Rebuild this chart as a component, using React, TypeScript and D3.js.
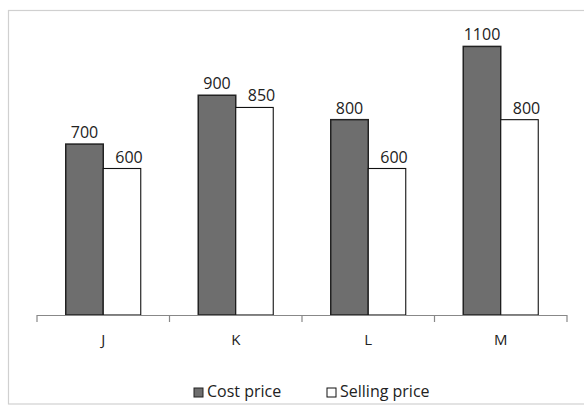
import React from "react";
import * as d3 from "d3";

const categories = ["J", "K", "L", "M"];
const seriesNames = ["Cost price", "Selling price"];
const costPrice = [700, 900, 800, 1100];
const sellingPrice = [600, 850, 600, 800];
const yMax = 1200;

const W = 584;
const H = 407;
const FONT = "'Open Sans', 'DejaVu Sans', sans-serif";

export default function App() {
  const x0 = d3.scaleBand<string>().domain(categories).range([37, 567]).padding(0);
  const bw = x0.bandwidth();
  const pair = 75;
  const x1 = d3
    .scaleBand<string>()
    .domain(seriesNames)
    .range([bw / 2 - pair / 2, bw / 2 + pair / 2])
    .padding(0);
  const y = d3.scaleLinear().domain([0, yMax]).range([315, 22]);
  const values = [costPrice, sellingPrice];
  const fills = ["#6e6e6e", "#ffffff"];
  const strokes = ["#222222", "#111111"];
  const labelDx = [0, 7];
  const ticks = [...categories.map((c) => x0(c)!), 567];

  return (
    <svg
      width={W}
      height={H}
      style={{ position: "absolute", left: 0, top: 0, background: "#fff" }}
    >
      <rect x={8.5} y={10.5} width={W + 10} height={393.5} fill="none" stroke="#d0d0d0" strokeWidth={1.2} />
      {seriesNames.map((s, si) =>
        categories.map((c, ci) => {
          const v = values[si][ci];
          const bx = x0(c)! + x1(s)!;
          const by = y(v);
          return (
            <g key={s + c}>
              <rect
                x={bx}
                y={by}
                width={x1.bandwidth()}
                height={y(0) - by}
                fill={fills[si]}
                stroke={strokes[si]}
                strokeWidth={si === 0 ? 1.5 : 1.1}
              />
              <text
                x={bx + x1.bandwidth() / 2 + labelDx[si]}
                y={by - 6}
                textAnchor="middle"
                fontFamily={FONT}
                fontSize={16}
                fill="#222"
              >
                {v}
              </text>
            </g>
          );
        })
      )}
      <line x1={37} x2={567} y1={315.5} y2={315.5} stroke="#888" strokeWidth={1.2} />
      {ticks.map((t, i) => (
        <line key={i} x1={t} x2={t} y1={315} y2={322} stroke="#888" strokeWidth={1.2} />
      ))}
      {categories.map((c) => (
        <text
          key={c}
          x={x0(c)! + bw / 2}
          y={344.5}
          textAnchor="middle"
          fontFamily={FONT}
          fontSize={15}
          fill="#222"
        >
          {c}
        </text>
      ))}
      {seriesNames.map((s, si) => {
        const lx = si === 0 ? 194 : 327;
        return (
          <g key={s}>
            <rect x={lx} y={388} width={9} height={9} fill={fills[si]} stroke={strokes[si]} strokeWidth={1} />
            <text x={lx + 13} y={397} fontFamily={FONT} fontSize={16} fill="#222">
              {s}
            </text>
          </g>
        );
      })}
    </svg>
  );
}
